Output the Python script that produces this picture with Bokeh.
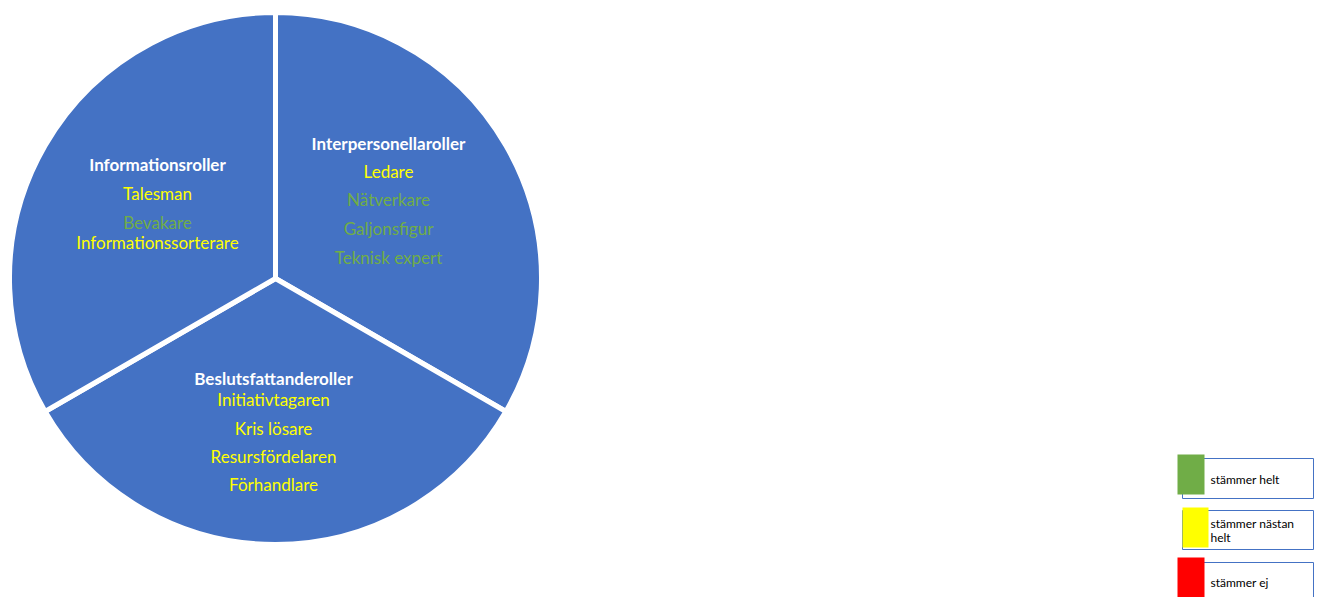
import numpy as np
from bokeh.plotting import figure
from bokeh.models import Range1d
from bokeh.core.properties import value
from bokeh.embed import file_html
from bokeh.resources import INLINE

# ---- data ----
groups = ["Interpersonellaroller", "Beslutsfattanderoller", "Informationsroller"]
shares = [1, 1, 1]

interpersonal_roles = ["Ledare", "Nätverkare", "Galjonsfigur", "Teknisk expert"]
interpersonal_status = ["stämmer nästan helt", "stämmer helt", "stämmer helt", "stämmer helt"]

decision_roles = ["Initiativtagaren", "Kris lösare", "Resursfördelaren", "Förhandlare"]
decision_status = ["stämmer nästan helt", "stämmer nästan helt", "stämmer nästan helt", "stämmer nästan helt"]

information_roles = ["Talesman", "Bevakare", "Informationssorterare"]
information_status = ["stämmer nästan helt", "stämmer helt", "stämmer nästan helt"]

legend_labels = ["stämmer helt", "stämmer nästan helt", "stämmer ej"]
legend_colors = ["#70AD47", "#FFFF00", "#FF0000"]

# ---- layout ----
W, H = 1318, 597
FONT = "Lato"
status_color = dict(zip(legend_labels, legend_colors))

p = figure(width=W, height=H, output_backend="svg", toolbar_location=None,
           x_range=Range1d(0, W), y_range=Range1d(0, H), min_border=0)
p.axis.visible = False
p.grid.visible = False
p.outline_line_color = None
p.background_fill_color = "white"
p.border_fill_color = "white"

def sy(y):
    return H - y

# pie
cx, cy, R = 275, sy(278), 266
fr = np.array(shares, dtype=float) / sum(shares)
ends = np.pi / 2 - 2 * np.pi * np.concatenate([[0], np.cumsum(fr)[:-1]])
starts = ends - 2 * np.pi * fr
p.wedge(x=[cx] * len(groups), y=[cy] * len(groups), radius=R,
        start_angle=list(starts), end_angle=list(ends),
        fill_color="#4472C4", line_color="white", line_width=5)

# texts inside slices: (header x, header y, role ys)
text_layout = {
    "Interpersonellaroller": (388, 143, [171, 199, 228, 257]),
    "Beslutsfattanderoller": (273, 378, [399, 428, 456, 484]),
    "Informationsroller": (157, 164, [193, 222, 242]),
}
role_lists = {
    "Interpersonellaroller": (interpersonal_roles, interpersonal_status),
    "Beslutsfattanderoller": (decision_roles, decision_status),
    "Informationsroller": (information_roles, information_status),
}
for g in groups:
    hx, hy, rys = text_layout[g]
    p.text(x=[hx], y=[sy(hy)], text=[g], text_color="white",
           text_font=value(FONT), text_font_style="bold", text_font_size="17px",
           text_align="center", text_baseline="middle")
    names, stats = role_lists[g]
    p.text(x=[hx] * len(names), y=[sy(v) for v in rys], text=names,
           text_color=[status_color[s] for s in stats],
           text_font=value(FONT), text_font_size="17px",
           text_align="center", text_baseline="middle")

# legend boxes
box_tops = [458, 510, 562]
box_bottoms = [498, 549, 610]
sq = [(1177, 1204, 454, 494), (1182, 1208, 507, 547), (1177, 1204, 557, 597)]
for i, (lab, col) in enumerate(zip(legend_labels, legend_colors)):
    p.quad(left=[1182], right=[1313], top=[sy(box_tops[i])], bottom=[sy(box_bottoms[i])],
           fill_color="white", line_color="#4472C4", line_width=1)
    l, r, t, b = sq[i]
    p.quad(left=[l], right=[r], top=[sy(t)], bottom=[sy(b)],
           fill_color=col, line_color=None)
    mid = (box_tops[i] + min(box_bottoms[i], 597)) / 2
    words = lab.split(" ")
    if len(lab) > 14:
        lines = [" ".join(words[:2]), " ".join(words[2:])]
        ys = [mid - 7, mid + 7]
    else:
        lines = [lab]
        ys = [mid + 1 if i < 2 else 582]
    p.text(x=[1210] * len(lines), y=[sy(v) for v in ys], text=lines,
           text_color="black", text_font=value(FONT), text_font_size="12px",
           text_align="left", text_baseline="middle")

open("out.html", "w").write(file_html(p, INLINE))
